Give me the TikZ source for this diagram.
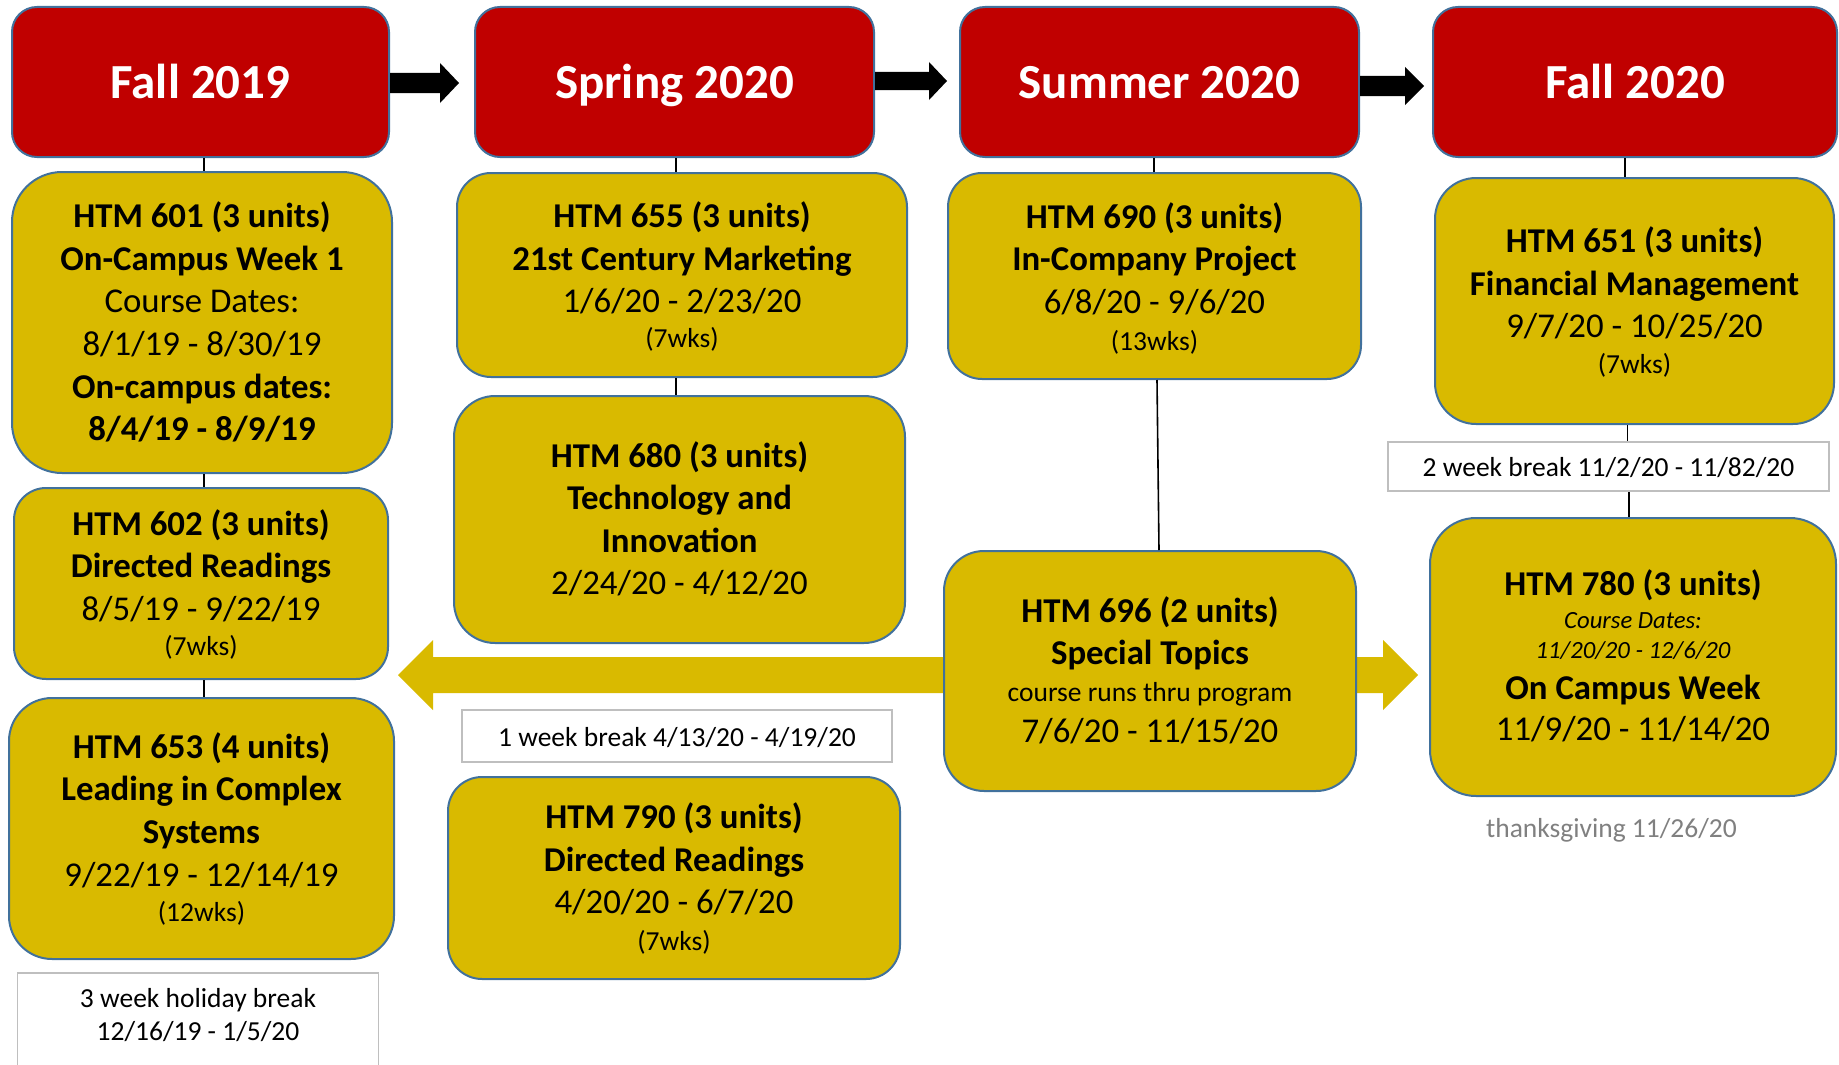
\documentclass[tikz,border=0pt]{standalone}
\usepackage{fontspec}
\setmainfont{Carlito}
\usetikzlibrary{calc}
\definecolor{hdrred}{RGB}{192,0,0}
\definecolor{gold}{RGB}{217,186,0}
\definecolor{edgeblue}{RGB}{65,113,156}
\definecolor{brkgray}{RGB}{191,191,191}
\definecolor{txtgray}{RGB}{128,128,128}
\newcommand\smt{\fontsize{27.5}{35}\selectfont}
\newcommand\itt{\fontsize{24.7}{30}\selectfont\itshape}
\newcommand\fr{\rule{0pt}{30pt}}
\begin{document}
\begin{tikzpicture}[x=1pt,y=-1pt,
  hdr/.style={draw=edgeblue, line width=2pt, fill=hdrred, rounded corners=25pt, text=white,
    font=\fontsize{49}{58}\selectfont\bfseries, inner sep=0pt, minimum height=150pt,
    text height=34pt, text depth=0pt},
  course/.style={draw=edgeblue, line width=2pt, fill=gold, inner sep=0pt},
  ctext/.style={align=center, inner sep=0pt, outer sep=0pt, anchor=north,
    font=\fontsize{34.8}{42.6}\selectfont},
  brk/.style={draw=brkgray, line width=1.5pt, fill=white, inner sep=0pt, font=\smt,
    text height=20pt, text depth=0pt},
  conn/.style={draw=black, line width=1.6pt},
  blk/.style={fill=black},
  goldarrow/.style={fill=gold}]
\useasboundingbox (0,0) rectangle (1839,1065);

% big gold double arrow (behind HTM 696)
\fill[goldarrow] (398,675) -- (433,640) -- (433,657) -- (1383,657) -- (1383,640) -- (1418,675)
  -- (1383,710) -- (1383,693) -- (433,693) -- (433,710) -- cycle;

% headers
\node[hdr, minimum width=377pt] (h1) at (200.5,82) {Fall 2019};
\node[hdr, minimum width=399pt] (h2) at (674.5,82) {Spring 2020};
\node[hdr, minimum width=399pt] (h3) at (1159.5,82) {Summer 2020};
\node[hdr, minimum width=404pt] (h4) at (1635,82) {Fall 2020};

% black arrows between headers
\fill[blk] (h1.east|-0,73) -- (440,73) -- (440,63) -- (459,83) -- (440,103) -- (440,93) -- (h1.east|-0,93) -- cycle;
\fill[blk] (h2.east|-0,72) -- (929,72) -- (929,62) -- (947,81) -- (929,100) -- (929,90) -- (h2.east|-0,90) -- cycle;
\fill[blk] (h3.east|-0,76) -- (1405,76) -- (1405,67) -- (1424,86) -- (1405,105) -- (1405,96) -- (h3.east|-0,96) -- cycle;

% column 1
\node[course, minimum width=380pt, minimum height=301pt, rounded corners=50pt] (c601) at (202,322.5) {};
\node[ctext] (c601t) at (202,197.7)
  {\fr\textbf{HTM 601 (3 units)}\\ \textbf{On-Campus Week 1}\\ Course Dates:\\ 8/1/19 - 8/30/19\\ \textbf{On-campus dates:}\\ \textbf{8/4/19 - 8/9/19}};
\node[course, minimum width=374pt, minimum height=191pt, rounded corners=32pt] (c602) at (201,583.5) {};
\node[ctext] (c602t) at (201,505)
  {\fr\textbf{HTM 602 (3 units)}\\ \textbf{Directed Readings}\\ 8/5/19 - 9/22/19\\[-6.9pt] {\smt (7wks)}};
\node[course, minimum width=385pt, minimum height=261pt, rounded corners=43pt] (c653) at (201.5,828.5) {};
\node[ctext] (c653t) at (201.5,728.3)
  {\fr\textbf{HTM 653 (4 units)}\\ \textbf{Leading in Complex}\\ \textbf{Systems}\\ 9/22/19 - 12/14/19\\[-7.6pt] {\smt (12wks)}};
\node[draw=brkgray, line width=1.5pt, fill=white, minimum width=361pt, minimum height=130pt, anchor=north] (hol) at (198,972) {};
\node[align=center, inner sep=0pt, outer sep=0pt, anchor=north, font=\fontsize{27.5}{33.6}\selectfont] (holtxt) at (198,985)
  {\rule{0pt}{22pt}3 week holiday break\\ 12/16/19 - 1/5/20};

% column 2
\node[course, minimum width=450pt, minimum height=204pt, rounded corners=34pt] (c655) at (682,275) {};
\node[ctext] (c655t) at (682,197.7)
  {\fr\textbf{HTM 655 (3 units)}\\ \textbf{21st Century Marketing}\\ 1/6/20 - 2/23/20\\[-8.2pt] {\smt (7wks)}};
\node[course, minimum width=451pt, minimum height=247pt, rounded corners=41pt] (c680) at (679.5,519.5) {};
\node[ctext] (c680t) at (679.5,437)
  {\fr\textbf{HTM 680 (3 units)}\\ \textbf{Technology and}\\ \textbf{Innovation}\\ 2/24/20 - 4/12/20};
\node[brk, minimum width=430pt, minimum height=52pt] (brk1) at (677,736) {1 week break 4/13/20 - 4/19/20};
\node[course, minimum width=452pt, minimum height=202pt, rounded corners=34pt] (c790) at (674,878) {};
\node[ctext] (c790t) at (674,798.6)
  {\fr\textbf{HTM 790 (3 units)}\\ \textbf{Directed Readings}\\ 4/20/20 - 6/7/20\\[-6.3pt] {\smt (7wks)}};

% column 3
\node[course, minimum width=413pt, minimum height=206pt, rounded corners=34pt] (c690) at (1154.5,276) {};
\node[ctext] (c690t) at (1154.5,198.3)
  {\fr\textbf{HTM 690 (3 units)}\\ \textbf{In-Company Project}\\ 6/8/20 - 9/6/20\\[-5.9pt] {\smt (13wks)}};
\node[course, minimum width=412pt, minimum height=240pt, rounded corners=40pt] (c696) at (1150,671) {};
\node[ctext] (c696t) at (1150,592)
  {\fr\textbf{HTM 696 (2 units)}\\ \textbf{Special Topics}\\[-6.1pt] {\smt course runs thru program}\\[-1.2pt] 7/6/20 - 11/15/20};

% column 4
\node[course, minimum width=399pt, minimum height=246pt, rounded corners=41pt] (c651) at (1634.5,301) {};
\node[ctext] (c651t) at (1634.5,222.7)
  {\fr\textbf{HTM 651 (3 units)}\\ \textbf{Financial Management}\\ 9/7/20 - 10/25/20\\[-6.6pt] {\smt (7wks)}};
\node[brk, minimum width=441pt, minimum height=49pt] (brk2) at (1608.5,466.5) {2 week break 11/2/20 - 11/82/20};
\node[course, minimum width=406pt, minimum height=278pt, rounded corners=46pt] (c780) at (1633,657) {};
\node[ctext] (c780t) at (1633,565)
  {\fr\textbf{HTM 780 (3 units)}\\[-9pt] {\itt Course Dates:}\\[-13.2pt] {\itt 11/20/20 - 12/6/20}\\[-1.4pt] \textbf{On Campus Week}\\[-0.9pt] 11/9/20 - 11/14/20};
\node[font=\smt, text=txtgray, inner sep=0pt, anchor=base] (thx) at (1611.5,837) {thanksgiving 11/26/20};

% connectors
\draw[conn] ([xshift=3.5pt]h1.south) -- ([xshift=3.5pt]h1.south |- c601.north);
\draw[conn] ([xshift=2pt]c601.south) -- ([xshift=2pt]c601.south |- c602.north);
\draw[conn] ([xshift=3pt]c602.south) -- ([xshift=3pt]c602.south |- c653.north);
\draw[conn] ([xshift=1.5pt]h2.south) -- ([xshift=1.5pt]h2.south |- c655.north);
\draw[conn] ([xshift=-6pt]c655.south) -- ([xshift=-6pt]c655.south |- c680.north);
\draw[conn] ([xshift=-5.5pt]h3.south) -- ([xshift=-5.5pt]h3.south |- c690.north);
\draw[conn] ([xshift=2.5pt]c690.south) -- ([xshift=9pt]c696.north);
\draw[conn] ([xshift=-10pt]h4.south) -- ([xshift=-10pt]h4.south |- c651.north);
\draw[conn] ([xshift=-7pt]c651.south) -- ([xshift=-7pt]c651.south |- brk2.north);
\draw[conn] ([xshift=20.5pt]brk2.south) -- ([xshift=20.5pt]brk2.south |- c780.north);
\end{tikzpicture}
\end{document}
